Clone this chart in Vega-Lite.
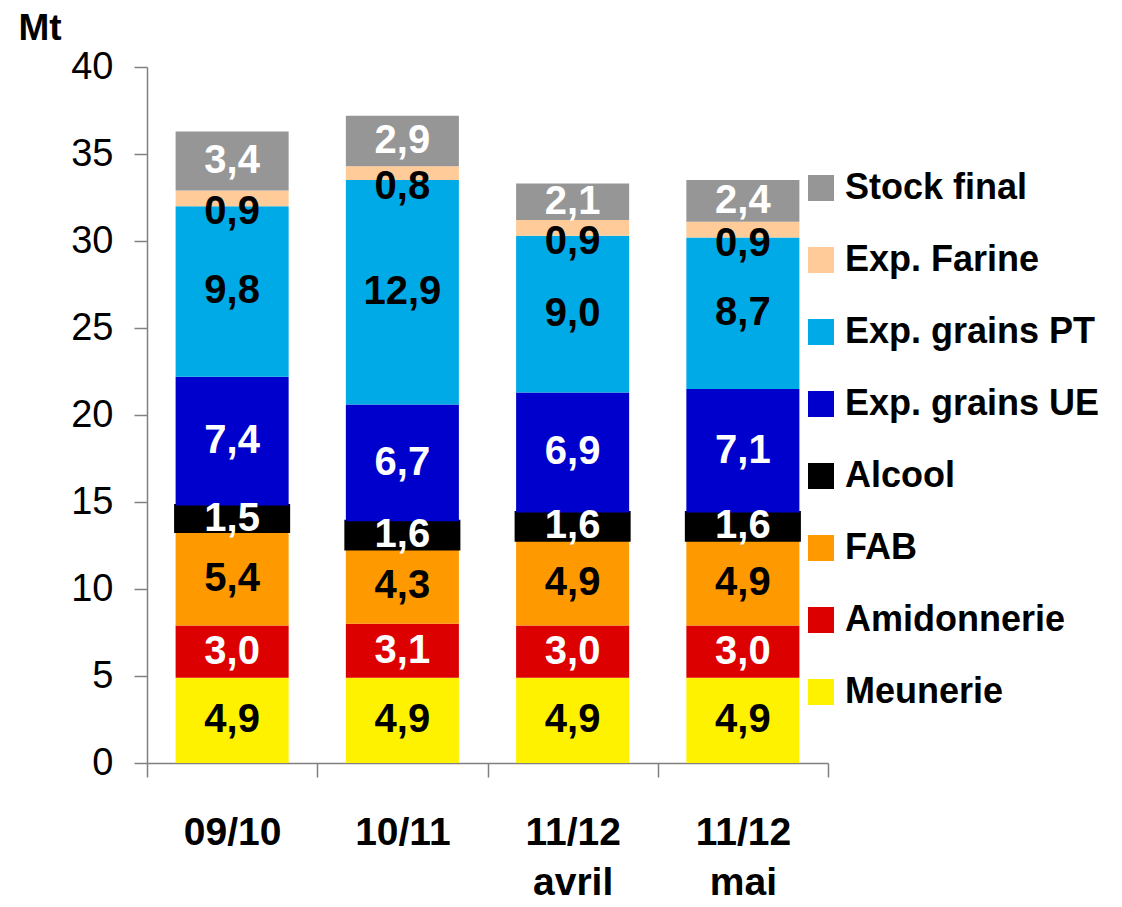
{
  "$schema": "https://vega.github.io/schema/vega-lite/v6.json",
  "width": 681,
  "height": 696,
  "autosize": {"type": "none"},
  "padding": {"left": 147, "top": 67, "right": 294, "bottom": 144},
  "background": "white",
  "config": {
    "view": {"stroke": null},
    "font": "Liberation Sans",
    "locale": {"number": {"decimal": ",", "thousands": " ", "grouping": [3], "currency": ["", " €"]}}
  },
  "data": {
    "values": [
      {"period": "09/10", "cat": "Meunerie", "value": 4.9, "o": 1},
      {"period": "09/10", "cat": "Amidonnerie", "value": 3.0, "o": 2},
      {"period": "09/10", "cat": "FAB", "value": 5.4, "o": 3},
      {"period": "09/10", "cat": "Alcool", "value": 1.5, "o": 4},
      {"period": "09/10", "cat": "Exp. grains UE", "value": 7.4, "o": 5},
      {"period": "09/10", "cat": "Exp. grains PT", "value": 9.8, "o": 6},
      {"period": "09/10", "cat": "Exp. Farine", "value": 0.9, "o": 7},
      {"period": "09/10", "cat": "Stock final", "value": 3.4, "o": 8},
      {"period": "10/11", "cat": "Meunerie", "value": 4.9, "o": 1},
      {"period": "10/11", "cat": "Amidonnerie", "value": 3.1, "o": 2},
      {"period": "10/11", "cat": "FAB", "value": 4.3, "o": 3},
      {"period": "10/11", "cat": "Alcool", "value": 1.6, "o": 4},
      {"period": "10/11", "cat": "Exp. grains UE", "value": 6.7, "o": 5},
      {"period": "10/11", "cat": "Exp. grains PT", "value": 12.9, "o": 6},
      {"period": "10/11", "cat": "Exp. Farine", "value": 0.8, "o": 7},
      {"period": "10/11", "cat": "Stock final", "value": 2.9, "o": 8},
      {"period": "11/12 avril", "cat": "Meunerie", "value": 4.9, "o": 1},
      {"period": "11/12 avril", "cat": "Amidonnerie", "value": 3.0, "o": 2},
      {"period": "11/12 avril", "cat": "FAB", "value": 4.9, "o": 3},
      {"period": "11/12 avril", "cat": "Alcool", "value": 1.6, "o": 4},
      {"period": "11/12 avril", "cat": "Exp. grains UE", "value": 6.9, "o": 5},
      {"period": "11/12 avril", "cat": "Exp. grains PT", "value": 9.0, "o": 6},
      {"period": "11/12 avril", "cat": "Exp. Farine", "value": 0.9, "o": 7},
      {"period": "11/12 avril", "cat": "Stock final", "value": 2.1, "o": 8},
      {"period": "11/12 mai", "cat": "Meunerie", "value": 4.9, "o": 1},
      {"period": "11/12 mai", "cat": "Amidonnerie", "value": 3.0, "o": 2},
      {"period": "11/12 mai", "cat": "FAB", "value": 4.9, "o": 3},
      {"period": "11/12 mai", "cat": "Alcool", "value": 1.6, "o": 4},
      {"period": "11/12 mai", "cat": "Exp. grains UE", "value": 7.1, "o": 5},
      {"period": "11/12 mai", "cat": "Exp. grains PT", "value": 8.7, "o": 6},
      {"period": "11/12 mai", "cat": "Exp. Farine", "value": 0.9, "o": 7},
      {"period": "11/12 mai", "cat": "Stock final", "value": 2.4, "o": 8}
    ]
  },
  "transform": [
    {"stack": "value", "groupby": ["period"], "sort": [{"field": "o", "order": "ascending"}], "as": ["v0", "v1"]},
    {"calculate": "(datum.v0 + datum.v1) / 2", "as": "mid"}
  ],
  "encoding": {
    "x": {
      "field": "period", "type": "nominal", "sort": null,
      "scale": {"paddingInner": 0, "paddingOuter": 0},
      "axis": {
        "title": null, "labelAngle": 0, "labelFontSize": 39, "labelFontWeight": "bold",
        "labelColor": "black", "labelPadding": 36, "labelLineHeight": 50,
        "labelExpr": "split(datum.label, ' ')", "labelBaseline": "top",
        "tickSize": 14, "tickBand": "extent", "tickColor": "#808080", "tickWidth": 1.5,
        "domainColor": "#808080", "domainWidth": 1.5, "labelOverlap": false, "labelFlush": false
      }
    }
  },
  "layer": [
    {
      "mark": {"type": "bar", "width": {"band": 0.664}},
      "encoding": {
        "y": {
          "field": "v0", "type": "quantitative",
          "scale": {"domain": [0, 40], "nice": false, "zero": true},
          "axis": {
            "values": [0, 5, 10, 15, 20, 25, 30, 35, 40],
            "grid": false, "labelFontSize": 38, "labelColor": "black", "labelPadding": 21,
            "tickSize": 13, "tickColor": "#808080", "tickWidth": 1.5,
            "domainColor": "#808080", "domainWidth": 1.5,
            "title": "Mt", "titleAngle": 0, "titleAlign": "left", "titleBaseline": "alphabetic",
            "titleX": -129, "titleY": -28, "titleFontSize": 37, "titleFontWeight": "bold", "titleColor": "black"
          }
        },
        "y2": {"field": "v1"},
        "color": {
          "field": "cat", "type": "nominal",
          "scale": {
            "domain": ["Stock final", "Exp. Farine", "Exp. grains PT", "Exp. grains UE", "Alcool", "FAB", "Amidonnerie", "Meunerie"],
            "range": ["#969696", "#FFCC99", "#00AAE6", "#0000CC", "#000000", "#FF9900", "#DD0000", "#FFF200"]
          },
          "legend": {
            "title": null, "orient": "none", "legendX": 656, "legendY": 103,
            "symbolType": "square", "symbolSize": 676, "symbolStrokeWidth": 0,
            "labelFontSize": 36, "labelFontWeight": "bold", "labelColor": "black",
            "labelOffset": 6, "rowPadding": 36, "labelLimit": 400, "padding": 0
          }
        },
        "stroke": {"condition": {"test": "datum.cat === 'Alcool'", "value": "black"}, "value": null},
        "strokeWidth": {"condition": {"test": "datum.cat === 'Alcool'", "value": 3}, "value": 0}
      }
    },
    {
      "transform": [{"filter": "datum.cat !== 'Exp. Farine'"}],
      "mark": {"type": "text", "fontSize": 40, "fontWeight": "bold", "baseline": "middle", "align": "center"},
      "encoding": {
        "y": {"field": "mid", "type": "quantitative"},
        "text": {"field": "value", "type": "quantitative", "format": ".1f"},
        "color": {
          "condition": {"test": "indexof(['Stock final','Alcool','Exp. grains UE','Amidonnerie'], datum.cat) >= 0", "value": "white"},
          "value": "black"
        }
      }
    },
    {
      "transform": [{"filter": "datum.cat === 'Exp. Farine'"}],
      "mark": {"type": "text", "fontSize": 40, "fontWeight": "bold", "baseline": "middle", "align": "center", "dy": 14, "color": "black"},
      "encoding": {
        "y": {"field": "mid", "type": "quantitative"},
        "text": {"field": "value", "type": "quantitative", "format": ".1f"}
      }
    }
  ]
}
